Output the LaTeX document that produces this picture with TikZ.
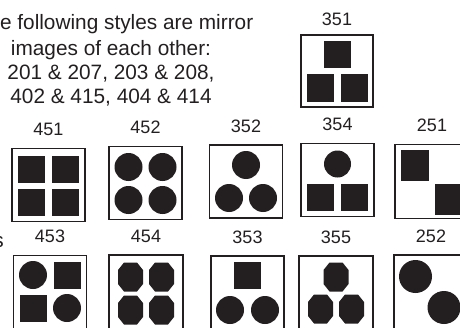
\documentclass[tikz,border=0pt]{standalone}
\usepackage{fontspec}
\setmainfont{Liberation Sans}
\usetikzlibrary{positioning}

\newcommand{\pxu}{0.75pt}
\definecolor{ink}{RGB}{35,31,32}

\begin{document}
\begin{tikzpicture}[x=0.75pt, y=-0.75pt,
            tile/.style={draw=ink, line width=1.4pt, minimum size=73*\pxu, inner sep=0pt},
            wide/.style={minimum size=74*\pxu},
            tag/.style={font=\fontsize{13.5}{16}\selectfont, text=ink, inner sep=0pt},
            note/.style={font=\fontsize{15.6}{18}\selectfont, text=ink, inner sep=0pt, align=center},
            sq/.style={fill=ink, minimum size=27*\pxu, inner sep=0pt},
            dot/.style={circle, fill=ink, minimum size=28*\pxu, inner sep=0pt},
            octo/.pic={\fill[ink] (-12.5,-7) -- (-12.5,7) -- (-6.5,14.5) -- (6.5,14.5)
                    -- (12.5,7) -- (12.5,-7) -- (6.5,-14.5) -- (-6.5,-14.5) -- cycle;}
        ]
        \useasboundingbox (0,0) rectangle (460,328);

        % ---------------------------------------------------------------
        % NOTE
        % ---------------------------------------------------------------
        \node[note, anchor=base east] (note1) at (253.5,30) {e following styles are mirror};
        \node[note, anchor=north] (note2) at (111,40)
            {images of each other:\\201 \& 207, 203 \& 208,\\402 \& 415, 404 \& 414};
        \node[note, anchor=base east] (cut) at (4,247) {s};

        % ---------------------------------------------------------------
        % TILES
        % ---------------------------------------------------------------
        \node[tile, minimum size=72*\pxu] (b351) at (337,71) {};
        \foreach \name/\x/\y in {451/48.5/185, 452/145.5/183, 352/246/181.5, 354/337.5/180,
                                453/50/292, 353/247.5/292.5}
            \node[tile] (b\name) at (\x,\y) {};
        \foreach \name/\x/\y in {251/432/181.5, 454/146/292, 355/336/293, 252/431/292}
            \node[tile, wide] (b\name) at (\x,\y) {};

        % Labels
        \node[tag, above=6pt of b351] {351};
        \foreach \name in {451, 452, 352, 354, 251, 453, 454, 353, 355, 252}
            \node[tag, above=8.6pt of b\name] {\name};

        % ---------------------------------------------------------------
        % MOTIFS
        % ---------------------------------------------------------------
        % 351
        \node[sq] (s351a) at ([shift={(0,-16)}]b351.center) {};
        \node[sq] (s351b) at ([shift={(-17,17)}]b351.center) {};
        \node[sq] (s351c) at ([shift={(17,17)}]b351.center) {};

        % 451
        \node[sq] (s451a) at ([shift={(-17,-16)}]b451.center) {};
        \node[sq] (s451b) at ([shift={(17,-16)}]b451.center) {};
        \node[sq] (s451c) at ([shift={(-17,17)}]b451.center) {};
        \node[sq] (s451d) at ([shift={(17,17)}]b451.center) {};

        % 452
        \node[dot] (d452a) at ([shift={(-17,-16)}]b452.center) {};
        \node[dot] (d452b) at ([shift={(17,-16)}]b452.center) {};
        \node[dot] (d452c) at ([shift={(-17,17)}]b452.center) {};
        \node[dot] (d452d) at ([shift={(17,17)}]b452.center) {};

        % 352
        \node[dot] (d352a) at ([shift={(0,-16.5)}]b352.center) {};
        \node[dot] (d352b) at ([shift={(-17,16.5)}]b352.center) {};
        \node[dot] (d352c) at ([shift={(17,16.5)}]b352.center) {};

        % 354
        \node[dot, minimum size=27*\pxu] (d354a) at ([shift={(0,-16)}]b354.center) {};
        \node[sq] (s354b) at ([shift={(-17,17)}]b354.center) {};
        \node[sq] (s354c) at ([shift={(17,17)}]b354.center) {};

        % 251
        \node[sq, minimum width=28*\pxu, minimum height=31*\pxu] (s251a) at ([shift={(-17,-16)}]b251.center) {};
        \node[sq, minimum width=28*\pxu, minimum height=31*\pxu] (s251b) at ([shift={(17,18)}]b251.center) {};

        % 453
        \node[dot] (d453a) at ([shift={(-17,-17)}]b453.center) {};
        \node[sq] (s453b) at ([shift={(17,-17)}]b453.center) {};
        \node[sq] (s453c) at ([shift={(-17,16.5)}]b453.center) {};
        \node[dot] (d453d) at ([shift={(17,16)}]b453.center) {};

        % 454
        \pic at ([shift={(-15.5,-15)}]b454.center) {octo};
        \pic at ([shift={(15.5,-15)}]b454.center) {octo};
        \pic at ([shift={(-15.5,18)}]b454.center) {octo};
        \pic at ([shift={(15.5,18)}]b454.center) {octo};

        % 353
        \node[sq] (s353a) at ([shift={(0,-17)}]b353.center) {};
        \node[dot] (d353b) at ([shift={(-17.5,17.5)}]b353.center) {};
        \node[dot] (d353c) at ([shift={(17.5,17.5)}]b353.center) {};

        % 355
        \pic at ([shift={(0,-16)}]b355.center) {octo};
        \pic at ([shift={(-15.5,16)}]b355.center) {octo};
        \pic at ([shift={(15.5,16)}]b355.center) {octo};

        % 252
        \node[dot, minimum size=33*\pxu] (d252a) at ([shift={(-15.5,-15.5)}]b252.center) {};
        \node[dot, minimum size=33*\pxu] (d252b) at ([shift={(13,15.5)}]b252.center) {};

    \end{tikzpicture}
\end{document}
